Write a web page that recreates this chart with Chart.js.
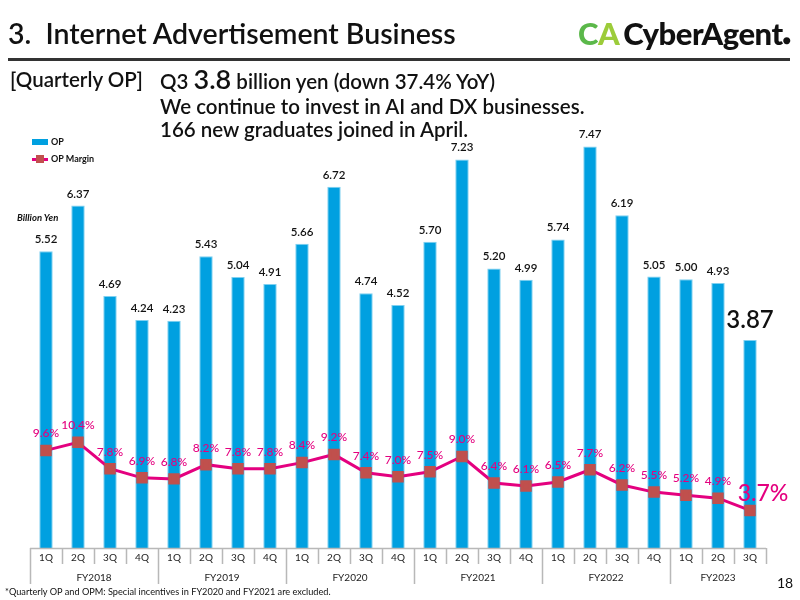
<!DOCTYPE html>
<html>
<head>
<meta charset="utf-8">
<script src="https://cdn.jsdelivr.net/npm/chart.js@4"></script>
<style>
  body { margin: 0; width: 800px; height: 600px; position: relative; background: #fff; font-family: Lato, "Noto Sans", sans-serif; overflow: hidden; }
  #chart { position: absolute; left: 0; top: 0; }
  .abs { position: absolute; white-space: nowrap; color: #111; }
  #title { left: 8px; top: 16px; font-size: 28.5px; font-weight: 600; }
  #rule { position: absolute; left: 8px; top: 58px; width: 782px; height: 3px; background: #333; }
  #logo { left: 578px; top: 14px; font-size: 31px; font-weight: 900; letter-spacing: -0.5px; }
  #logo .c1 { color: #5bb84a; }
  #logo .c2 { color: #9ccc3a; margin-right: 4px; }
  #logo .dot { font-size: 14px; }
  .sub { font-size: 20.5px; font-weight: 600; }
  #legend { left: 32px; top: 134px; font-size: 9px; font-weight: 700; }
  #unit { left: 17px; top: 212px; font-size: 9.5px; font-weight: 700; font-style: italic; }
  #foot { left: 5px; top: 586px; font-size: 9.2px; }
  #page { left: 777px; top: 574px; font-size: 14px; }
</style>
</head>
<body>
<canvas id="chart" width="800" height="600"></canvas>
<div id="title" class="abs">3.&nbsp;&nbsp;Internet Advertisement Business</div>
<div id="rule"></div>
<div id="logo" class="abs"><span class="c1">C</span><span class="c2">A</span>CyberAgent<span class="dot">●</span></div>
<div class="abs sub" style="left:10px; top:67px;">[Quarterly OP]</div>
<div class="abs sub" style="left:160px; top:62px;">Q3 <span style="font-size:27px;">3.8</span> billion yen (down 37.4% YoY)</div>
<div class="abs sub" style="left:160px; top:94px;">We continue to invest in AI and DX businesses.</div>
<div class="abs sub" style="left:160px; top:117px;">166 new graduates joined in April.</div>
<div id="legend" class="abs">
  <div style="position:relative; height:14px;"><span style="position:absolute; left:0; top:5px; width:16px; height:6px; background:#00a0e0;"></span><span style="position:absolute; left:19px; top:2px;">OP</span></div>
  <div style="position:relative; height:14px; margin-top:4px;"><span style="position:absolute; left:0; top:6px; width:16px; height:3px; background:#e4007f;"></span><span style="position:absolute; left:4px; top:3px; width:8px; height:8px; background:#c0504d;"></span><span style="position:absolute; left:19px; top:1px;">OP Margin</span></div>
</div>
<div id="unit" class="abs">Billion Yen</div>
<div id="foot" class="abs">*Quarterly OP and OPM: Special incentives in FY2020 and FY2021 are excluded.</div>
<div id="page" class="abs">18</div>
<script>
const quarters = ['1Q', '2Q', '3Q', '4Q', '1Q', '2Q', '3Q', '4Q', '1Q', '2Q', '3Q', '4Q',
    '1Q', '2Q', '3Q', '4Q', '1Q', '2Q', '3Q', '4Q', '1Q', '2Q', '3Q'];
const fiscalYears = ['FY2018', 'FY2019', 'FY2020', 'FY2021', 'FY2022', 'FY2023'];
const opValues = [5.52, 6.37, 4.69, 4.24, 4.23, 5.43, 5.04, 4.91, 5.66, 6.72, 4.74, 4.52,
    5.70, 7.23, 5.20, 4.99, 5.74, 7.47, 6.19, 5.05, 5.00, 4.93, 3.87];
const opMargin = [9.6, 10.4, 7.8, 6.9, 6.8, 8.2, 7.8, 7.8, 8.4, 9.2, 7.4, 7.0,
    7.5, 9.0, 6.4, 6.1, 6.5, 7.7, 6.2, 5.5, 5.2, 4.9, 3.7];

const FONT = 'Lato, "Noto Sans", sans-serif';

// value labels + two level category axis
const labelPlugin = {
    id: 'labels',
    afterDraw(chart) {
        const ctx = chart.ctx;
        const x = chart.scales.x;
        const area = chart.chartArea;
        const step = (area.right - area.left) / quarters.length;
        ctx.save();

        // axis
        ctx.strokeStyle = '#b8b8b8';
        ctx.lineWidth = 1.5;
        ctx.beginPath();
        ctx.moveTo(area.left, area.bottom + 0.5);
        ctx.lineTo(area.right, area.bottom + 0.5);
        for (let i = 0; i <= quarters.length; i++) {
            const px = Math.round(area.left + i * step) + 0.5;
            const long = i % 4 === 0 && i < quarters.length;
            ctx.moveTo(px, area.bottom);
            ctx.lineTo(px, area.bottom + (long ? 36 : 16));
        }
        ctx.stroke();

        ctx.fillStyle = '#222';
        ctx.textAlign = 'center';
        ctx.textBaseline = 'middle';
        ctx.font = '10px ' + FONT;
        quarters.forEach((q, i) => ctx.fillText(q, x.getPixelForValue(i), area.bottom + 10));
        fiscalYears.forEach((fy, k) => {
            const first = k * 4;
            const last = Math.min(first + 3, quarters.length - 1);
            const cx = (x.getPixelForValue(first) + x.getPixelForValue(last)) / 2;
            ctx.fillText(fy, cx, area.bottom + 30);
        });

        // bar labels
        const bars = chart.getDatasetMeta(0).data;
        ctx.textBaseline = 'bottom';
        bars.forEach((bar, i) => {
            const last = i === bars.length - 1;
            ctx.fillStyle = '#111';
            ctx.font = (last ? '600 24px ' : '600 11.5px ') + FONT;
            ctx.fillText(opValues[i].toFixed(2), bar.x, bar.y - (last ? 8 : 6));
        });

        // margin labels
        const pts = chart.getDatasetMeta(1).data;
        pts.forEach((p, i) => {
            const last = i === pts.length - 1;
            ctx.fillStyle = '#e4007f';
            if (last) {
                ctx.font = '500 23px ' + FONT;
                ctx.fillText(opMargin[i].toFixed(1) + '%', p.x + 13, p.y - 5);
            } else {
                ctx.font = '500 12px ' + FONT;
                ctx.fillText(opMargin[i].toFixed(1) + '%', p.x, p.y - 11);
            }
        });
        ctx.restore();
    }
};

new Chart(document.getElementById('chart'), {
    data: {
        labels: quarters,
        datasets: [{
            type: 'bar',
            label: 'OP',
            data: opValues,
            backgroundColor: '#00a0e0',
            borderColor: '#7fd0f0',
            borderWidth: { left: 1, right: 1, top: 1, bottom: 0 },
            barPercentage: 0.42,
            categoryPercentage: 1,
            yAxisID: 'y',
            order: 2
        }, {
            type: 'line',
            label: 'OP Margin',
            data: opMargin,
            borderColor: '#e4007f',
            borderWidth: 3,
            pointStyle: 'rect',
            pointRadius: 6,
            pointBackgroundColor: '#c0504d',
            pointBorderColor: '#c0504d',
            yAxisID: 'y2',
            order: 1
        }]
    },
    options: {
        responsive: false,
        animation: false,
        layout: { padding: { left: 30, right: 34, top: 118, bottom: 52 } },
        plugins: { legend: { display: false }, tooltip: { enabled: false } },
        scales: {
            x: { display: false, offset: true },
            y: { display: false, min: 0, max: 8 },
            y2: { display: false, min: 0, max: 42.3 }
        }
    },
    plugins: [labelPlugin]
});
</script>
</body>
</html>
